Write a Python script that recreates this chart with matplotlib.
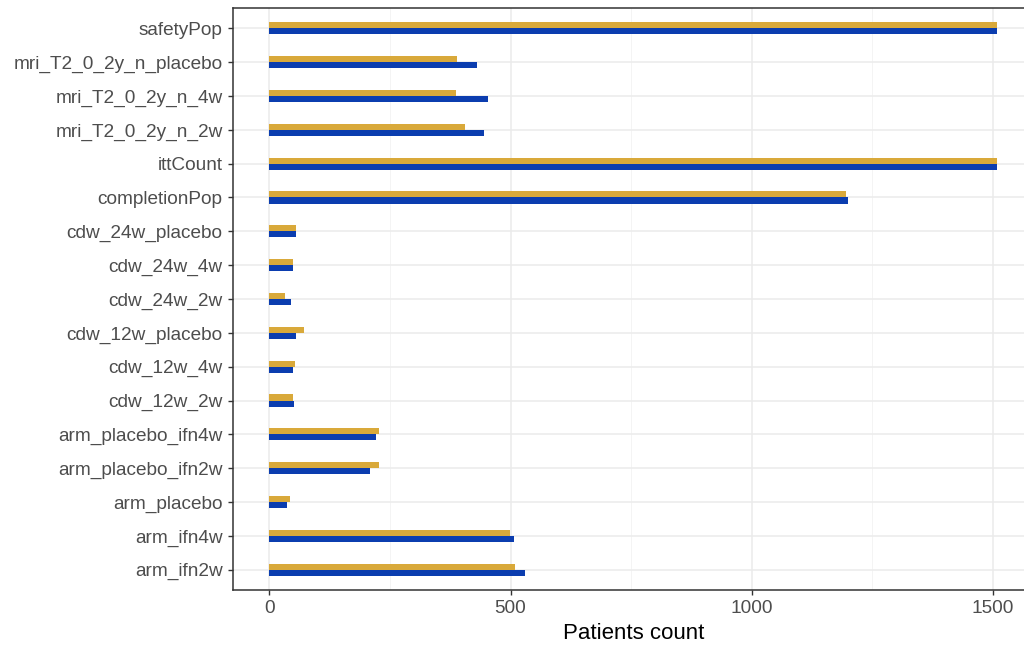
import matplotlib
matplotlib.use("Agg")
import matplotlib.pyplot as plt
import numpy as np
from matplotlib.ticker import MultipleLocator

categories = ["arm_ifn2w", "arm_ifn4w", "arm_placebo", "arm_placebo_ifn2w",
              "arm_placebo_ifn4w", "cdw_12w_2w", "cdw_12w_4w", "cdw_12w_placebo",
              "cdw_24w_2w", "cdw_24w_4w", "cdw_24w_placebo", "completionPop",
              "ittCount", "mri_T2_0_2y_n_2w", "mri_T2_0_2y_n_4w",
              "mri_T2_0_2y_n_placebo", "safetyPop"]
series_gold = [510, 498, 43, 228, 228, 49, 53, 71, 33, 49, 56, 1195,
               1508, 406, 387, 389, 1508]
series_blue = [529, 507, 37, 209, 221, 50, 49, 56, 44, 49, 56, 1200,
               1508, 444, 453, 431, 1508]
x_ticks = [0, 500, 1000, 1500]

plt.rcParams['font.family'] = ['Liberation Sans', 'DejaVu Sans']

fig = plt.figure(figsize=(10.24, 6.5), dpi=100)
ax = fig.add_axes([233/1024, 60/650, (1034-233)/1024, (590-8)/650])

y = np.arange(len(categories))
h = 0.18
ax.barh(y + h/2, series_gold, height=h, color="#D9A93A", zorder=3)
ax.barh(y - h/2, series_blue, height=h, color="#0B3DAF", zorder=3)

ax.set_xlim(-75.5, 1585.5)
ax.set_ylim(-0.6, len(categories) - 1 + 0.6)
ax.set_yticks(y)
ax.set_yticklabels(categories)
ax.set_xticks(x_ticks)
ax.xaxis.set_minor_locator(MultipleLocator(250))

ax.grid(which="major", color="#EBEBEB", linewidth=1.1, zorder=0)
ax.grid(which="minor", axis="x", color="#F2F2F2", linewidth=0.6, zorder=0)
ax.set_axisbelow(True)

for s in ax.spines.values():
    s.set_color("#333333")
    s.set_linewidth(1.1)

ax.tick_params(axis="both", which="major", length=3.5, width=1.0, color="#333333",
               labelcolor="#4D4D4D", labelsize=13.7, pad=4)
ax.tick_params(axis="both", which="minor", length=0)
ax.set_xlabel("Patients count", fontsize=16, color="black", labelpad=4)

fig.savefig("out.png", dpi=100)
